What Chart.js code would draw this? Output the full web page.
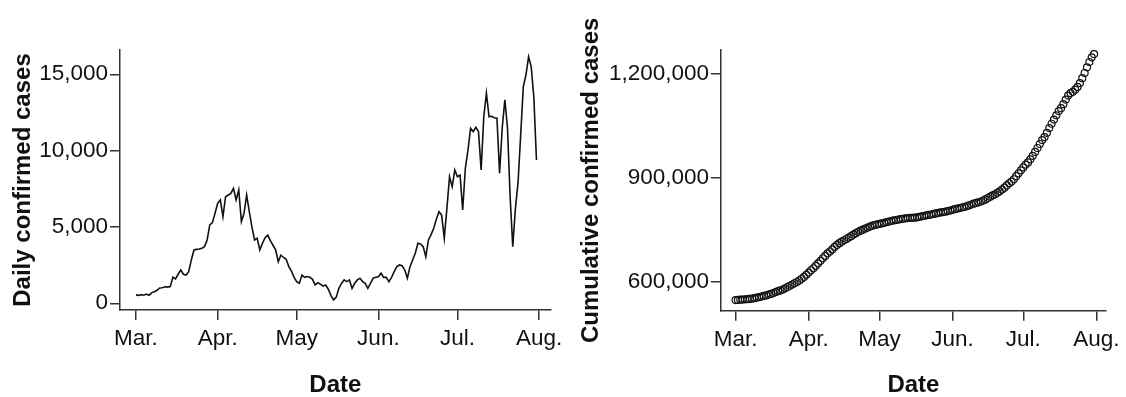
<!DOCTYPE html>
<html>
<head>
<meta charset="utf-8">
<script src="https://cdn.jsdelivr.net/npm/chart.js@4.4.1/dist/chart.umd.min.js"></script>
<style>
  html, body { margin: 0; padding: 0; background: #fff; }
  body { width: 1126px; height: 397px; position: relative; overflow: hidden; }
  canvas { position: absolute; top: 0; }
  #daily { left: 0; }
  #cumulative { left: 563px; }
</style>
</head>
<body>
<canvas id="daily" width="600" height="397"></canvas>
<canvas id="cumulative" width="563" height="397"></canvas>
<script>
// Month tick labels and the day offset (from 1 March) each one sits on
const monthLabels = ['Mar.', 'Apr.', 'May', 'Jun.', 'Jul.', 'Aug.'];
const monthStartDays = [0, 31, 61, 92, 122, 153];

// Value-axis ticks
const dailyTicks = [0, 5000, 10000, 15000];
const cumulativeTicks = [600000, 900000, 1200000];

// Daily confirmed cases, one value per day from 1 March to 31 July
const dailyCases = [
  550, 520, 560, 540, 600, 530, 700, 760, 850, 1000,
  1020, 1080, 1060, 1090, 1700, 1600, 1900, 2180, 1900, 1850,
  2070, 2840, 3490, 3530, 3560, 3600, 3710, 4150, 5130, 5280,
  5900, 6550, 6770, 5670, 6980, 7090, 7200, 7530, 6770, 7420,
  5350, 5900, 7090, 6000, 5000, 4150, 4260, 3490, 3930, 4300,
  4470, 4100, 3800, 3500, 2720, 3160, 3000, 2880, 2400, 2100,
  1700, 1415, 1310, 1850, 1700, 1750, 1700, 1570, 1200, 1350,
  1250, 1130, 1200, 920, 500, 220, 400, 980, 1300, 1530,
  1420, 1530, 980, 1310, 1530, 1640, 1420, 1310, 980, 1310,
  1640, 1700, 1740, 1970, 1700, 1700, 1420, 1700, 2070, 2400,
  2510, 2460, 2180, 1640, 2400, 2840, 3275, 3930, 3890, 3710,
  3050, 4150, 4500, 4910, 5500, 6000, 5780, 4260, 6220, 8290,
  7640, 8730, 8290, 8400, 6110, 8840, 10040, 11460, 11240, 11530,
  11240, 8730, 12220, 13755, 12220, 12250, 12150, 12120, 8515, 11500,
  13320, 11500, 7000, 3710, 6200, 7900, 11000, 14190, 14950, 16150,
  15500, 13500, 9390
];

// Cumulative confirmed cases, one value per day from 1 March to 31 July
const cumulativeCases = [
  547000, 547500, 548100, 548600, 549200, 549800, 550500, 551200, 552600, 554100,
  555700, 557300, 558900, 560500, 562800, 564900, 567400, 570100, 572600, 575000,
  577600, 581000, 584800, 588400, 591900, 595500, 599200, 603400, 608500, 613800,
  619700, 626300, 633000, 638700, 645700, 652800, 660000, 667500, 674300, 681700,
  687000, 692900, 700000, 706000, 711000, 715200, 719400, 722900, 726900, 731200,
  735600, 739700, 743500, 747000, 749700, 752900, 755900, 758800, 761200, 763300,
  765000, 766400, 767700, 769600, 771300, 773000, 774700, 776300, 777500, 778800,
  780100, 781200, 782400, 783300, 783800, 784000, 784400, 785400, 786700, 788300,
  789700, 791200, 792200, 793500, 795000, 796700, 798100, 799400, 800400, 801700,
  803300, 805000, 806800, 808700, 810400, 812100, 813600, 815300, 817300, 819700,
  822200, 824700, 826900, 828500, 830900, 833800, 837000, 841000, 844900, 848600,
  851600, 855800, 860300, 865200, 870700, 877200, 883400, 888200, 894900, 903700,
  911900, 920600, 928900, 937300, 943400, 952200, 962300, 973700, 985000, 996500,
  1007700, 1016500, 1028700, 1042400, 1054700, 1066900, 1079100, 1091200, 1099700, 1111200,
  1124500, 1136000, 1143000, 1146700, 1152900, 1160800, 1171800, 1186000, 1200900, 1217100,
  1232600, 1246100, 1255500
];

const FONT = "'Liberation Sans', Arial, Helvetica, sans-serif";
const AXIS = '#333';
const INK = '#111';

function toPoints(values) {
  return values.map((v, i) => ({ x: i, y: v }));
}

function fixedTicks(values) {
  return (scale) => { scale.ticks = values.map(v => ({ value: v })); };
}

function buildOptions(cfg) {
  return {
    responsive: false,
    animation: false,
    devicePixelRatio: 1,
    layout: { padding: { top: 50, right: cfg.padRight, left: 0, bottom: 0 } },
    plugins: { legend: { display: false }, tooltip: { enabled: false } },
    scales: {
      x: {
        type: 'linear',
        min: cfg.xMin,
        max: cfg.xMax,
        afterBuildTicks: fixedTicks(monthStartDays),
        afterFit: (scale) => { scale.height = cfg.xHeight; },
        ticks: {
          autoSkip: false,
          maxRotation: 0,
          padding: cfg.xTickPad,
          color: INK,
          font: { family: FONT, size: 22.5 },
          callback: (value) => monthLabels[monthStartDays.indexOf(value)]
        },
        grid: { display: true, drawOnChartArea: false, drawTicks: true, tickLength: 10, color: AXIS, lineWidth: 1.5 },
        border: { display: true, color: AXIS, width: 1.5 },
        title: {
          display: true,
          text: 'Date',
          color: INK,
          font: { family: FONT, size: 24, weight: 'bold', lineHeight: 1 },
          padding: { top: 0, bottom: 0 }
        }
      },
      y: {
        type: 'linear',
        min: cfg.yMin,
        max: cfg.yMax,
        afterBuildTicks: fixedTicks(cfg.yTicks),
        afterFit: (scale) => { scale.width = cfg.yWidth; },
        ticks: {
          padding: 2,
          color: INK,
          font: { family: FONT, size: 22.5 },
          callback: (value) => value.toLocaleString('en-US')
        },
        grid: { display: true, drawOnChartArea: false, drawTicks: true, tickLength: 10, color: AXIS, lineWidth: 1.5 },
        border: { display: true, color: AXIS, width: 1.5 },
        title: {
          display: true,
          text: cfg.yTitle,
          color: INK,
          font: { family: FONT, size: 24, weight: 'bold', lineHeight: 1 },
          padding: { top: cfg.yTitlePad, bottom: 0 }
        }
      }
    }
  };
}

// Daily confirmed cases: plain black line
new Chart(document.getElementById('daily'), {
  type: 'line',
  data: {
    datasets: [{
      data: toPoints(dailyCases),
      borderColor: INK,
      borderWidth: 1.6,
      pointRadius: 0,
      tension: 0,
      fill: false
    }]
  },
  options: buildOptions({
    padRight: 49.3,
    xMin: -6.07, xMax: 157.4, xHeight: 87, xTickPad: 5,
    yMin: -440, yMax: 16590, yTicks: dailyTicks, yWidth: 120,
    yTitle: 'Daily confirmed cases', yTitlePad: 11
  })
});

// Cumulative confirmed cases: hollow circle per day
new Chart(document.getElementById('cumulative'), {
  type: 'scatter',
  data: {
    datasets: [{
      data: toPoints(cumulativeCases),
      showLine: false,
      pointStyle: 'circle',
      pointRadius: 3.5,
      pointBorderWidth: 1.2,
      pointBorderColor: '#111',
      pointBackgroundColor: 'rgba(255,255,255,0)'
    }]
  },
  options: buildOptions({
    padRight: 17.7,
    xMin: -6.19, xMax: 157.0, xHeight: 86.3, xTickPad: 6,
    yMin: 516500, yMax: 1267100, yTicks: cumulativeTicks, yWidth: 158,
    yTitle: 'Cumulative confirmed cases', yTitlePad: 16.7
  })
});
</script>
</body>
</html>
